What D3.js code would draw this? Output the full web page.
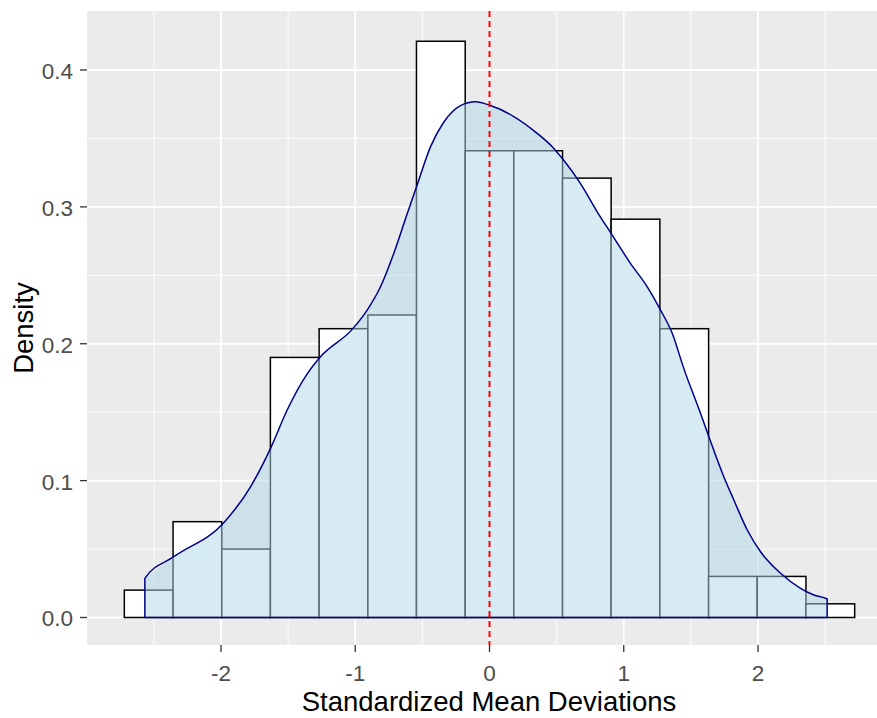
<!DOCTYPE html>
<html>
<head>
<meta charset="utf-8">
<script src="https://cdn.jsdelivr.net/npm/d3@7"></script>
<style>
  body { margin: 0; background: #fff; }
  svg { display: block; font-family: "Liberation Sans", Arial, sans-serif; }
</style>
</head>
<body>
<div id="chart"></div>
<script>
// histogram bin edges (15 bins)
const binEdges = [-2.720, -2.357, -1.994, -1.632, -1.269, -0.906, -0.544, -0.181,
                  0.181, 0.544, 0.906, 1.269, 1.632, 1.994, 2.357, 2.720];
// density per bin
const binDensity = [0.020, 0.070, 0.050, 0.190, 0.211, 0.221, 0.421, 0.341,
                    0.341, 0.321, 0.291, 0.211, 0.030, 0.030, 0.010];

// kernel density curve
const densX = [-2.567, -2.352, -1.979, -1.780, -1.631, -1.507, -1.358, -1.264, -1.023, -0.911,
               -0.812, -0.713, -0.613, -0.539, -0.439, -0.340, -0.216, -0.104, 0.007, 0.181,
               0.355, 0.479, 0.553, 0.678, 0.802, 0.914, 1.050, 1.175, 1.274, 1.361,
               1.447, 1.572, 1.634, 1.745, 1.820, 1.920, 2.019, 2.168, 2.317, 2.416, 2.515];
const densY = [0.0286, 0.0444, 0.0693, 0.0955, 0.1236, 0.1516, 0.1780, 0.1900, 0.2105, 0.2246,
               0.2416, 0.2660, 0.2950, 0.3160, 0.3440, 0.3620, 0.3740, 0.3768, 0.3740, 0.3660,
               0.3537, 0.3427, 0.3340, 0.3170, 0.2964, 0.2794, 0.2587, 0.2416, 0.2246, 0.2076,
               0.1820, 0.1490, 0.1320, 0.1028, 0.0858, 0.0639, 0.0480, 0.0323, 0.0213, 0.0164, 0.0135];

const meanLine = 0;

const xTicks = [-2, -1, 0, 1, 2];
const xMinor = [-2.5, -1.5, -0.5, 0.5, 1.5, 2.5];
const yTicks = [0.0, 0.1, 0.2, 0.3, 0.4];
const yMinor = [0.05, 0.15, 0.25, 0.35];

const width = 877, height = 718;
const panel = {left: 87, top: 11, bottom: 645};

const svg = d3.select('#chart').append('svg').attr('width', width).attr('height', height);

const xScale = d3.scaleLinear()
    .domain([-2.995, 2.995])
    .range([87.4, 891.6]);

const yScale = d3.scaleLinear()
    .domain([-0.0201, 0.4431])
    .range([panel.bottom, panel.top]);

// panel background
svg.append('rect')
    .attr('x', panel.left).attr('y', panel.top)
    .attr('width', width - panel.left).attr('height', panel.bottom - panel.top)
    .attr('fill', '#EBEBEB');

const grid = svg.append('g');
grid.selectAll('.ymin').data(yMinor).join('line')
    .attr('x1', panel.left).attr('x2', width)
    .attr('y1', d => yScale(d)).attr('y2', d => yScale(d))
    .attr('stroke', '#fff').attr('stroke-width', 0.9);
grid.selectAll('.xmin').data(xMinor).join('line')
    .attr('y1', panel.top).attr('y2', panel.bottom)
    .attr('x1', d => xScale(d)).attr('x2', d => xScale(d))
    .attr('stroke', '#fff').attr('stroke-width', 0.9);
grid.selectAll('.ymaj').data(yTicks).join('line')
    .attr('x1', panel.left).attr('x2', width)
    .attr('y1', d => yScale(d)).attr('y2', d => yScale(d))
    .attr('stroke', '#fff').attr('stroke-width', 1.8);
grid.selectAll('.xmaj').data(xTicks).join('line')
    .attr('y1', panel.top).attr('y2', panel.bottom)
    .attr('x1', d => xScale(d)).attr('x2', d => xScale(d))
    .attr('stroke', '#fff').attr('stroke-width', 1.8);

// histogram
const bins = binDensity.map((d, i) => ({x0: binEdges[i], x1: binEdges[i + 1], y: d}));
svg.append('g').selectAll('rect')
    .data(bins)
    .join('rect')
    .attr('x', d => xScale(d.x0))
    .attr('y', d => yScale(d.y))
    .attr('width', d => xScale(d.x1) - xScale(d.x0))
    .attr('height', d => yScale(0) - yScale(d.y))
    .attr('fill', '#fff')
    .attr('stroke', '#000')
    .attr('stroke-width', 1.5);

// density area (closed, outlined all round)
const densPts = densX.map((x, i) => [x, densY[i]]);
const area = d3.area()
    .x(d => xScale(d[0]))
    .y0(yScale(0))
    .y1(d => yScale(d[1]))
    .curve(d3.curveMonotoneX);
svg.append('path')
    .datum(densPts)
    .attr('d', area)
    .attr('fill', '#ADD8E6')
    .attr('fill-opacity', 0.5)
    .attr('stroke', 'none');
const outline = [[densX[0], 0]].concat(densPts).concat([[densX[densX.length - 1], 0]]);
svg.append('path')
    .datum(outline)
    .attr('d', d3.line().x(d => xScale(d[0])).y(d => yScale(d[1])).curve(d3.curveMonotoneX))
    .attr('fill', 'none')
    .attr('stroke', '#00008B')
    .attr('stroke-width', 1.5);
svg.append('line')
    .attr('x1', xScale(densX[0])).attr('x2', xScale(densX[densX.length - 1]))
    .attr('y1', yScale(0)).attr('y2', yScale(0))
    .attr('stroke', '#00008B').attr('stroke-width', 1.5);

// mean line
svg.append('line')
    .attr('x1', xScale(meanLine)).attr('x2', xScale(meanLine))
    .attr('y1', panel.top).attr('y2', panel.bottom)
    .attr('stroke', '#FF0000')
    .attr('stroke-width', 2)
    .attr('stroke-dasharray', '6,4');

// axes
const xAxis = svg.append('g');
xAxis.selectAll('line').data(xTicks).join('line')
    .attr('x1', d => xScale(d)).attr('x2', d => xScale(d))
    .attr('y1', panel.bottom).attr('y2', panel.bottom + 7)
    .attr('stroke', '#333').attr('stroke-width', 1.3);
xAxis.selectAll('text').data(xTicks).join('text')
    .attr('x', d => xScale(d)).attr('y', 681)
    .attr('text-anchor', 'middle')
    .style('font-size', '22.5px')
    .attr('fill', '#4D4D4D')
    .text(d => String(d));

const yAxis = svg.append('g');
yAxis.selectAll('line').data(yTicks).join('line')
    .attr('x1', panel.left - 7).attr('x2', panel.left)
    .attr('y1', d => yScale(d)).attr('y2', d => yScale(d))
    .attr('stroke', '#333').attr('stroke-width', 1.3);
yAxis.selectAll('text').data(yTicks).join('text')
    .attr('x', 73).attr('y', d => yScale(d) + 9)
    .attr('text-anchor', 'end')
    .style('font-size', '22.5px')
    .attr('fill', '#4D4D4D')
    .text(d => d3.format('.1f')(d));

svg.append('text')
    .attr('x', 489).attr('y', 711)
    .attr('text-anchor', 'middle')
    .style('font-size', '27.5px')
    .attr('fill', '#000')
    .text('Standardized Mean Deviations');

svg.append('text')
    .attr('transform', `translate(33,${(panel.top + panel.bottom) / 2}) rotate(-90)`)
    .attr('text-anchor', 'middle')
    .style('font-size', '27.5px')
    .attr('fill', '#000')
    .text('Density');
</script>
</body>
</html>
